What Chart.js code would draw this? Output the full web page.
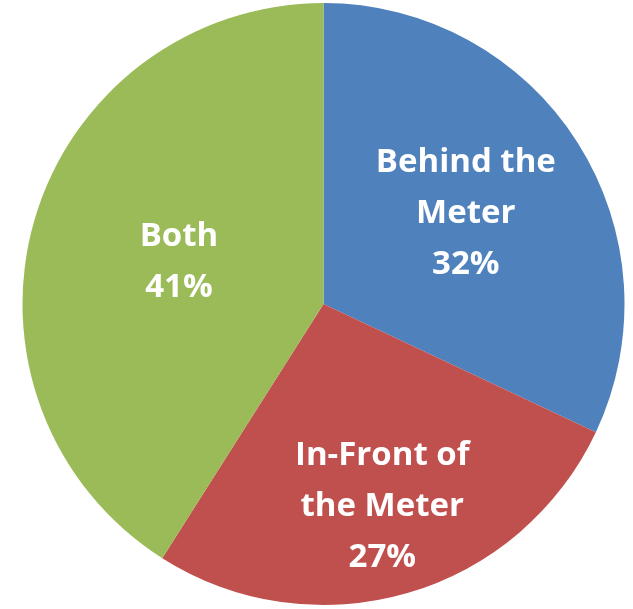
<!DOCTYPE html>
<html>
<head>
<meta charset="utf-8">
<script src="https://cdn.jsdelivr.net/npm/chart.js@4.4.1/dist/chart.umd.min.js"></script>
<style>
  html, body { margin: 0; padding: 0; background: #fff; }
  #wrap { width: 633px; height: 609px; }
</style>
</head>
<body>
<div id="wrap"><canvas id="pie"></canvas></div>
<script>
// Datos del gráfico
const categorias = [['Behind the', 'Meter'], ['In-Front of', 'the Meter'], ['Both']];
const porcentajes = [32, 27, 41];
const colores = ['#4F81BD', '#C0504D', '#9BBB59'];

// distancia relativa de cada etiqueta al centro
const radioEtiqueta = [0.56, 0.70, 0.50];

const etiquetasPlugin = {
    id: 'etiquetas',
    afterDatasetsDraw(chart) {
        const ctx = chart.ctx;
        const meta = chart.getDatasetMeta(0);
        ctx.save();
        ctx.fillStyle = '#fff';
        ctx.font = 'bold 33px "Open Sans"';
        ctx.textAlign = 'center';
        ctx.textBaseline = 'middle';
        meta.data.forEach((arc, i) => {
            const mid = (arc.startAngle + arc.endAngle) / 2;
            const r = arc.outerRadius * radioEtiqueta[i];
            const x = arc.x + Math.cos(mid) * r;
            const y = arc.y + Math.sin(mid) * r;
            const lineas = [...categorias[i], porcentajes[i] + '%'];
            const alto = 51;
            const y0 = y - (lineas.length - 1) * alto / 2;
            lineas.forEach((t, j) => ctx.fillText(t, x, y0 + j * alto));
        });
        ctx.restore();
    }
};

new Chart(document.getElementById('pie'), {
    type: 'pie',
    data: {
        labels: categorias.map(c => c.join(' ')),
        datasets: [{
            data: porcentajes,
            backgroundColor: colores,
            borderWidth: 0
        }]
    },
    options: {
        responsive: true,
        maintainAspectRatio: false,
        animation: false,
        layout: { padding: { left: 20, right: 6, top: 3, bottom: 4 } },
        plugins: {
            legend: { display: false },
            tooltip: { enabled: false }
        }
    },
    plugins: [etiquetasPlugin]
});
</script>
</body>
</html>
